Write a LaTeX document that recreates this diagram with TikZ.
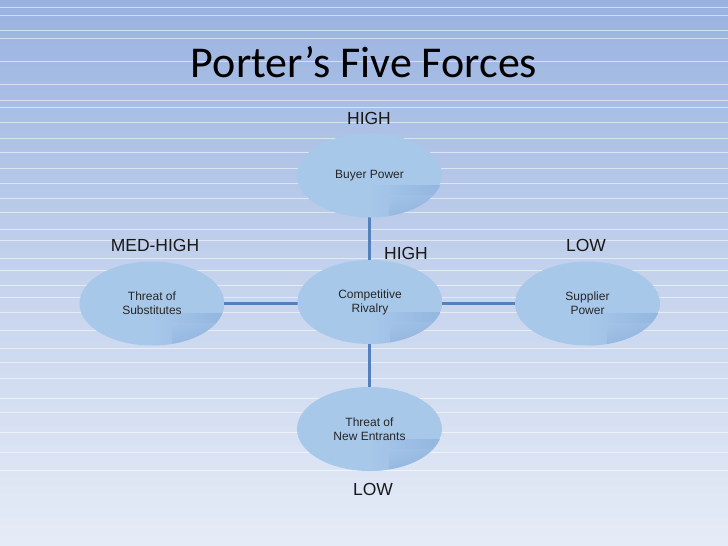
\documentclass[tikz,border=0pt]{standalone}
\usepackage{fontspec}
\setmainfont{Liberation Sans}
\newfontfamily\titlefont{Carlito}
\usetikzlibrary{shapes.geometric,calc}
\definecolor{bgtop}{RGB}{152,178,224}
\definecolor{bgbot}{RGB}{230,236,247}
\definecolor{elfill}{RGB}{168,200,234}
\definecolor{eldark}{RGB}{120,158,210}
\definecolor{conn}{RGB}{84,128,190}
\tikzset{
  force/.style={ellipse, minimum width=145pt, minimum height=84pt, inner sep=0pt, align=center, font=\fontsize{12}{14}\selectfont, text=black!85},
  lvl/.style={font=\fontsize{17.5}{20}\selectfont, text=black!90},
  link/.style={draw=conn, line width=3pt},
  stripe/.style={draw=white, line width=0.7pt, opacity=0.55}
}
\newcommand{\forceshape}[3]{%
  \begin{scope}
    \clip (#1) ellipse (72.5pt and 42pt);
    \fill[elfill] (#1) ellipse (72.5pt and 42pt);
    \shade[left color=elfill, right color=eldark, opacity=0.45] ($(#1)+(0,10)$) rectangle ($(#1)+(75,45)$);
    \shade[top color=elfill, bottom color=eldark, opacity=0.3] ($(#1)+(20,20)$) rectangle ($(#1)+(75,45)$);
  \end{scope}
  \node[force] (#2) at (#1) {#3};
}
\begin{document}
\begin{tikzpicture}[x=1pt,y=-1pt]
\useasboundingbox (0,0) rectangle (728,546);
\shade[top color=bgtop, bottom color=bgbot, middle color={rgb,255:red,196;green,210;blue,236}] (0,0) rectangle (728,546);
\foreach \yy in {7,15,30,38,61,84,100,107,122,138,152,168,183,198,212,229,240,258,270,285,297,312,330,348,362,378,398,412,432,452,470} {
  \draw[stripe] (0,\yy) -- (728,\yy);
}
\node[font=\titlefont\fontsize{44}{48}\selectfont, text=black] (title) at (364,62) {Porter’s Five Forces};

\coordinate (cb) at (369.5,175.5);
\coordinate (cr) at (370,302);
\coordinate (cs) at (587.5,303.5);
\coordinate (ct) at (152,303.5);
\coordinate (cn) at (369.5,429);

\draw[link] (369.5,200) -- (369.5,300);
\draw[link] (152,303) -- (587.5,303);
\draw[link] (369.5,303) -- (369.5,429);

\forceshape{cb}{buyer}{Buyer Power}
\forceshape{cr}{rivalry}{Competitive\\Rivalry}
\forceshape{cs}{supplier}{Supplier\\Power}
\forceshape{ct}{subst}{Threat of\\Substitutes}
\forceshape{cn}{entrants}{Threat of\\New Entrants}

\node[lvl] (l1) at (369,118) {HIGH};
\node[lvl] (l2) at (155,245) {MED-HIGH};
\node[lvl] (l3) at (406,253) {HIGH};
\node[lvl] (l4) at (586,245) {LOW};
\node[lvl] (l5) at (373,489) {LOW};
\end{tikzpicture}
\end{document}
